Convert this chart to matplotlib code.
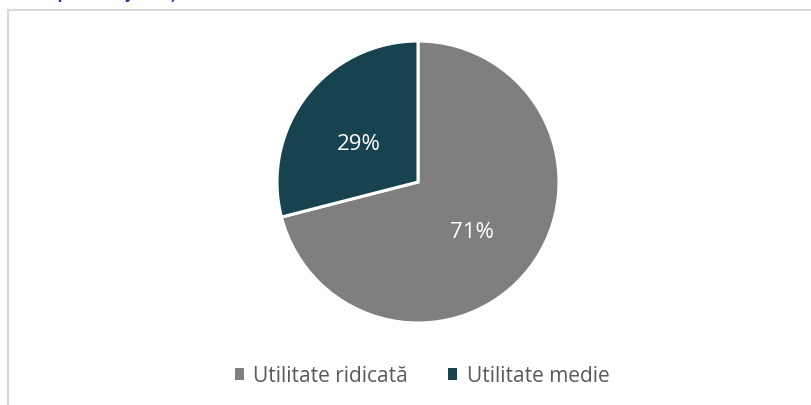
import matplotlib
matplotlib.use("Agg")
import matplotlib.pyplot as plt
from matplotlib.patches import Rectangle
import numpy as np

categories = ["Utilitate ridicată", "Utilitate medie"]
values = [71, 29]
labels = ["71%", "29%"]
colors = ["#7F7F7F", "#17434F"]
title = "Opinia majorității"

plt.rcParams['font.family'] = ['Open Sans', 'DejaVu Sans']

W, H = 812, 405
fig = plt.figure(figsize=(W / 100, H / 100), dpi=100)
fig.patch.set_facecolor("white")

# chart frame (clipped at right and bottom)
fig.patches.append(Rectangle((8 / W, -0.05), 1.0, 1 - 9.5 / H + 0.05,
                             transform=fig.transFigure, fill=False,
                             edgecolor="#D9D9D9", linewidth=1.5))

# clipped title (only descenders visible, as in the reference)
fig.text(47 / W, 1.0 + 1.5 / H, title, fontsize=12, style="italic",
         fontweight="bold", color="#1F3D8C", ha="left", va="baseline")

# pie: center (418,182), radius 141
r = 141
cx, cy = 418, 182
ax = fig.add_axes([(cx - r) / W, (H - cy - r) / H, 2 * r / W, 2 * r / H])
ax.pie(values, colors=colors, startangle=90, counterclock=False,
       radius=1.0, wedgeprops=dict(edgecolor="white", linewidth=2.2))
ax.set_xlim(-1, 1)
ax.set_ylim(-1, 1)
ax.set_aspect("equal")
ax.axis("off")

start = 90.0
for v, lab in zip(values, labels):
    mid = start - v / 2 * 360 / 100
    ang = np.deg2rad(mid)
    ax.text(0.51 * np.cos(ang) - 0.02, 0.51 * np.sin(ang) - 0.045, lab,
            ha="center", va="center", color="white", fontsize=16)
    start -= v * 360 / 100

handles = [Rectangle((0, 0), 1, 1, facecolor=c, edgecolor="none") for c in colors]
leg = fig.legend(handles, categories, loc="center", bbox_to_anchor=(422 / W, 1 - 376 / H),
                 ncol=2, frameon=False, fontsize=15, handlelength=0.45, handleheight=0.45,
                 handletextpad=0.45, columnspacing=1.9)
for t in leg.get_texts():
    t.set_color("#595959")

fig.savefig("out.png", dpi=100, facecolor="white")
